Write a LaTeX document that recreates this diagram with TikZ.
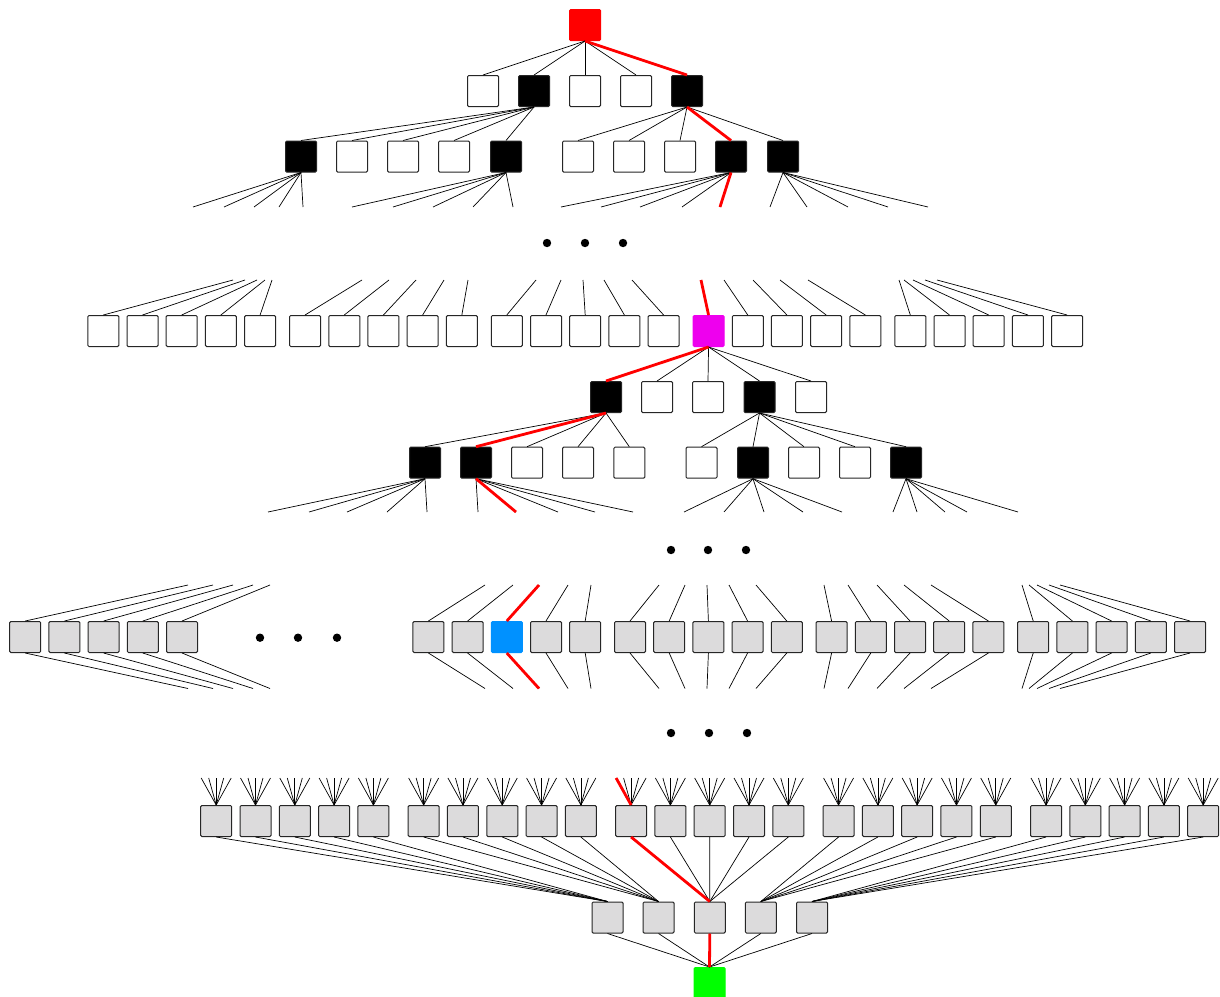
\documentclass[tikz,border=0pt]{standalone}
\usetikzlibrary{calc}

\definecolor{cellgray}{RGB}{220,219,220}
\definecolor{cellmagenta}{RGB}{238,0,238}
\definecolor{cellblue}{RGB}{0,145,255}

\begin{document}
\begin{tikzpicture}[x=1pt, y=-1pt,
    cell/.style={draw=black!85, line width=1pt, rounded corners=1.2pt,
                 minimum size=31pt, inner sep=0pt, fill=white},
    tinted/.style={cell, fill=#1, draw=#1},
    graycell/.style={cell, fill=cellgray},
    link/.style={line width=0.7pt, black},
    hot/.style={line width=2.8pt, red}]
    \useasboundingbox (0,0) rectangle (1220,996);

    % fan of loose branches hanging below a node
    \def\fan#1#2#3{
        \foreach \u [count=\j] in {#3} {
            \coordinate (#1-\j) at (\u,#2);
            \draw[link] (#1.south) -- (#1-\j);
        }
    }

    % top of the tree
    \node[tinted=red] (src) at (585,25) {};
    \foreach \x/\c [count=\i] in {483/white,534/black,585/white,636/white,687/black}
        \node[cell, fill=\c] (a\i) at (\x,91) {};
    \foreach \i in {1,...,5} \draw[link] (src.south) -- (a\i.north);
    \draw[hot] (src.south) -- (a5.north);

    \foreach \x/\c [count=\i] in {301/black,352/white,403/white,454/white,506/black,
                                  578/white,629/white,680/white,731/black,783/black}
        \node[cell, fill=\c] (b\i) at (\x,156.5) {};
    \foreach \i in {1,...,5} \draw[link] (a2.south) -- (b\i.north);
    \foreach \i in {6,...,10} \draw[link] (a5.south) -- (b\i.north);
    \draw[hot] (a5.south) -- (b9.north);

    \fan{b1}{207}{193,224,254,279,303}
    \fan{b5}{207}{352,393,433,473,513}
    \fan{b9}{207}{561,601,640,682,720}
    \fan{b10}{207}{770,807,848,888,928}
    \draw[hot] (b9.south) -- (b9-5);

    \foreach \x in {547,585,623} \fill (\x,243) circle (4.2);

    % wide row with the magenta node
    \foreach \u [count=\i] in {233,245,257,265,272, 362,389,416,444,468,
                               536,561,583,604,632, 701,724,753,780,808,
                               899,904,913,925,937} {
        \pgfmathsetmacro\x{103.3+201.75*int((\i-1)/5)+39.2*mod(\i-1,5)}
        \ifnum\i=16 \def\fc{cellmagenta}\def\dc{cellmagenta}\else\def\fc{white}\def\dc{black!85}\fi
        \node[cell, fill=\fc, draw=\dc] (c\i) at (\x,331) {};
        \coordinate (c\i-up) at (\u,280);
        \draw[link] (c\i-up) -- (c\i.north);
    }
    \draw[hot] (c16-up) -- (c16.north);

    \foreach \x/\c [count=\i] in {606/black,657/white,708/white,759.5/black,811/white}
        \node[cell, fill=\c] (d\i) at (\x,397) {};
    \foreach \i in {1,...,5} \draw[link] (c16.south) -- (d\i.north);
    \draw[hot] (c16.south) -- (d1.north);

    \foreach \x/\c [count=\i] in {425/black,476/black,527/white,578/white,629.3/white,
                                  701.5/white,753/black,804/white,855/white,906/black}
        \node[cell, fill=\c] (e\i) at (\x,462.7) {};
    \foreach \i in {1,...,5} \draw[link] (d1.south) -- (e\i.north);
    \foreach \i in {6,...,10} \draw[link] (d4.south) -- (e\i.north);
    \draw[hot] (d1.south) -- (e2.north);

    \fan{e1}{512}{268,309,347,387,427}
    \fan{e2}{512}{478,516,558,595,633}
    \fan{e7}{512}{684,724,764,803,842}
    \fan{e10}{512}{893,917,945,967,1018}
    \draw[hot] (e2.south) -- (e2-2);

    \foreach \x in {671,708,746} \fill (\x,550) circle (4.2);

    % gray row with the blue node
    \foreach \g/\us in {0/{188,213,233,253,270}, 2/{485,513,539,568,591},
                        3/{659,685,707,729,756}, 4/{824,848,877,904,931},
                        5/{1022,1029,1037,1049,1060}}
        \foreach \u [count=\k from 0] in \us {
            \pgfmathsetmacro\x{25.2+201.6*\g+39.2*\k}
            \ifnum\g\k=22 \def\fc{cellblue}\def\dc{cellblue}\else\def\fc{cellgray}\def\dc{black!85}\fi
            \node[cell, fill=\fc, draw=\dc] (f\g\k) at (\x,637) {};
            \coordinate (f\g\k-up) at (\u,585);
            \coordinate (f\g\k-dn) at (\u,688.5);
            \draw[link] (f\g\k-up) -- (f\g\k.north) (f\g\k.south) -- (f\g\k-dn);
        }
    \draw[hot] (f22-up) -- (f22.north) (f22.south) -- (f22-dn);

    \foreach \x in {260,298,337} \fill (\x,637.7) circle (4.2);
    \foreach \x in {671,709,747} \fill (\x,733) circle (4.2);

    % bottom of the tree
    \foreach \x [count=\i] in {607.5,658.5,709.8,760.8,812}
        \node[graycell] (h\i) at (\x,917.5) {};
    \node[tinted=green] (sink) at (709.5,983) {};

    \foreach \g in {0,...,4}
        \foreach \k in {0,...,4} {
            \pgfmathsetmacro\x{216.2+207.45*\g+39.3*\k}
            \pgfmathtruncatemacro\hn{\g+1}
            \node[graycell] (p\g\k) at (\x,821) {};
            \foreach \o [count=\j] in {-15,-7.5,0,7.5,15} {
                \coordinate (p\g\k-\j) at ({\x+\o},778);
                \draw[link] (p\g\k-\j) -- (p\g\k.north);
            }
            \draw[link] (p\g\k.south) -- (h\hn.north);
        }
    \foreach \i in {1,...,5} \draw[link] (h\i.south) -- (sink.north);
    \draw[hot] (p20-1) -- (p20.north) (p20.south) -- (h3.north) (h3.south) -- (sink.north);
\end{tikzpicture}
\end{document}
